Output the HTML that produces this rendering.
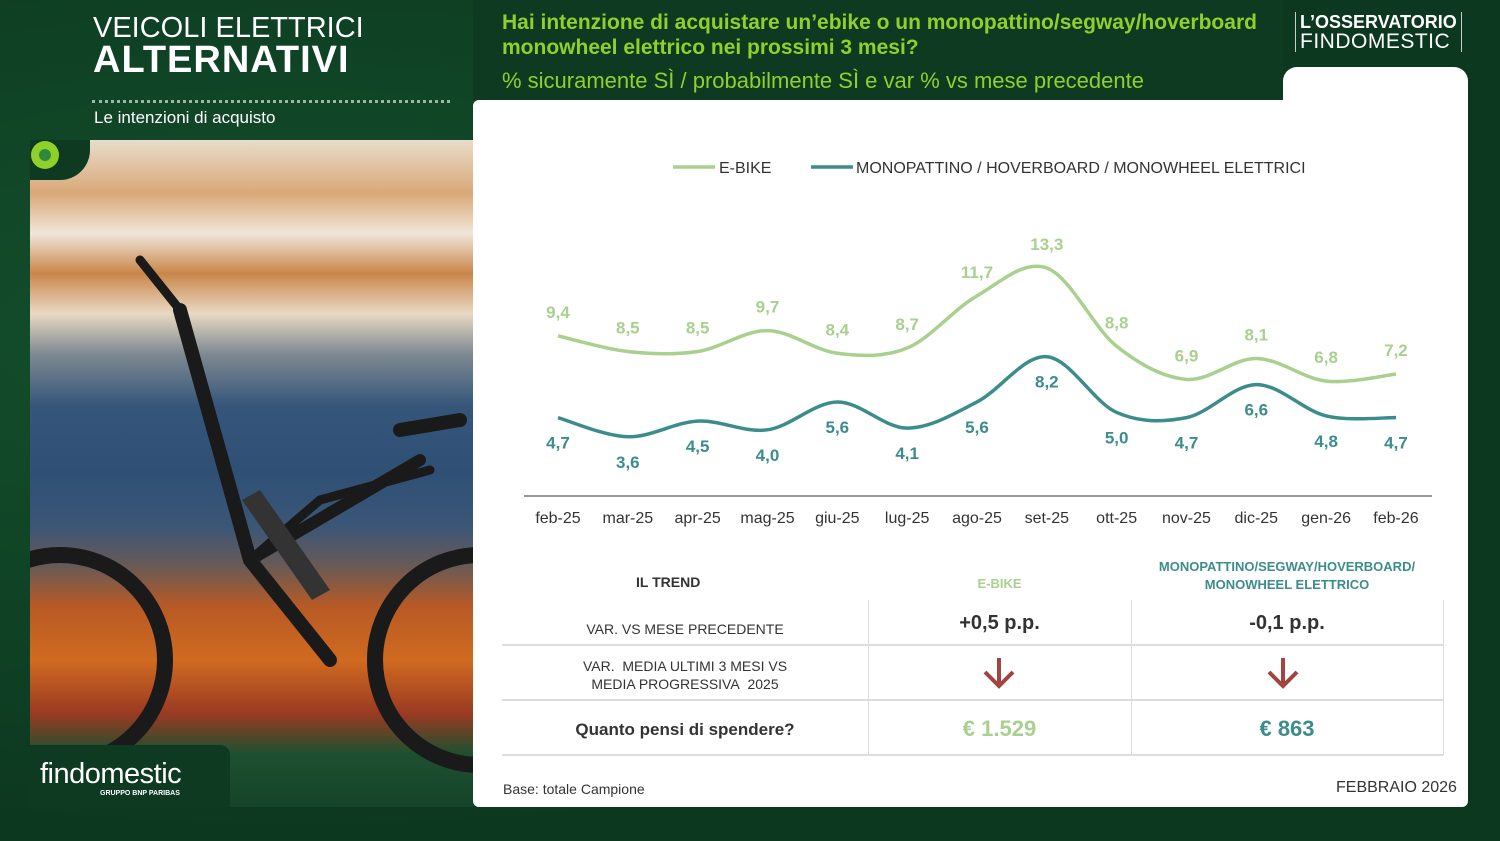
<!DOCTYPE html>
<html><head><meta charset="utf-8"><style>
body{margin:0;width:1500px;height:841px;overflow:hidden;background:#0e3a22;font-family:"Liberation Sans",sans-serif;position:relative}
.abs{position:absolute}
</style></head><body>
<div class="abs" style="left:0;top:0;width:1500px;height:841px;background:radial-gradient(ellipse at 20% 40%,#14512c,#0c3820 70%)"></div>
<!-- photo -->
<div class="abs" style="left:30px;top:140px;width:443px;height:667px;border-top-left-radius:40px;overflow:hidden;background:linear-gradient(180deg,#e8dccb 0%,#d9a877 8%,#f0e6d8 14%,#c9864a 20%,#e9d9c3 26%,#7f8a92 32%,#35557a 40%,#2f5075 50%,#3b5677 58%,#6a5a55 64%,#b85a25 70%,#d06a20 78%,#9a3a22 86%,#1d5030 92%,#16442a 100%)">
 <svg width="443" height="667" style="position:absolute;left:0;top:0">
  <g fill="none" stroke="#1a1a1a" stroke-linecap="round">
   <circle cx="30" cy="520" r="105" stroke-width="16"/>
   <circle cx="450" cy="520" r="105" stroke-width="16"/>
   <path d="M150 170 L220 420 L300 520" stroke-width="14"/>
   <path d="M220 420 L390 320" stroke-width="12"/>
   <path d="M220 420 L290 360 L400 330" stroke-width="9"/>
   <path d="M110 120 L150 170" stroke-width="9"/>
   <path d="M370 290 L430 280" stroke-width="14"/>
  </g>
  <path d="M230 350 L300 450 L282 460 L212 360Z" fill="#333"/>
 </svg>
</div>
<div class="abs" style="left:30px;top:140px;width:60px;height:40px;background:#0e3a22;border-bottom-right-radius:30px"></div>
<div class="abs" style="left:31px;top:141px;width:28px;height:28px;border-radius:50%;background:#8fd12a"></div>
<div class="abs" style="left:39px;top:149px;width:12px;height:12px;border-radius:50%;background:#2e8a3a"></div>
<div class="abs" style="left:30px;top:745px;width:200px;height:62px;background:#0e3a22;border-top-right-radius:10px"></div>
<div class="abs" style="left:40px;top:758px;color:#fff;font-size:29px;letter-spacing:-0.5px">findomestic</div>
<div class="abs" style="left:100px;top:790px;color:#fff;font-size:7px;font-weight:bold">GRUPPO BNP PARIBAS</div>
<!-- header left -->
<div class="abs" style="left:93px;top:12px;color:#fff;font-size:29px;line-height:32px">VEICOLI ELETTRICI<br><b style="font-size:38px;letter-spacing:1px">ALTERNATIVI</b></div>
<div class="abs" style="left:92px;top:100px;width:358px;border-top:3px dotted #9ab8a8"></div>
<div class="abs" style="left:94px;top:108px;color:#fff;font-size:17px">Le intenzioni di acquisto</div>
<!-- white panel -->
<div class="abs" style="left:473px;top:100px;width:995px;height:707px;background:#fff;border-radius:6px"></div>
<div class="abs" style="left:1283px;top:67px;width:185px;height:60px;background:#fff;border-radius:14px"></div>
<div class="abs" style="left:473px;top:0;width:810px;height:100px;background:#0e3a22;border-bottom-right-radius:12px"></div>
<div class="abs" style="left:502px;top:10px;color:#8fd12a;font-size:21px;font-weight:bold;line-height:25px">Hai intenzione di acquistare un’ebike o un monopattino/segway/hoverboard<br>monowheel elettrico nei prossimi 3 mesi?</div>
<div class="abs" style="left:502px;top:68px;color:#8fd12a;font-size:22px">% sicuramente SÌ / probabilmente SÌ e var % vs mese precedente</div>
<div class="abs" style="left:1295px;top:12px;border-left:1px solid #ccc;border-right:1px solid #ccc;padding:0 4px;color:#fff;font-size:18px;line-height:20px"><b>L’OSSERVATORIO</b><br><span style="font-size:21px;letter-spacing:0.5px">FINDOMESTIC</span></div>
<!-- chart -->
<svg id="ch" class="abs" style="left:0;top:0" width="1500" height="841" font-family="Liberation Sans, sans-serif"></svg>
<!-- table -->
<div class="abs" style="left:636px;top:574px;font-size:14px;font-weight:bold;color:#333">IL TREND</div>
<div class="abs" style="left:868px;top:576px;width:263px;text-align:center;font-size:13px;font-weight:bold;color:#a9d08e">E-BIKE</div>
<div class="abs" style="left:1131px;top:558px;width:312px;text-align:center;font-size:13px;font-weight:bold;color:#3d8c8c;line-height:18px">MONOPATTINO/SEGWAY/HOVERBOARD/<br>MONOWHEEL ELETTRICO</div>
<div class="abs" style="left:502px;top:644px;width:941px;border-top:2px solid #ddd"></div>
<div class="abs" style="left:502px;top:699px;width:941px;border-top:2px solid #ddd"></div>
<div class="abs" style="left:502px;top:754px;width:941px;border-top:2px solid #ddd"></div>
<div class="abs" style="left:868px;top:600px;height:155px;border-left:1px solid #ddd"></div>
<div class="abs" style="left:1131px;top:600px;height:155px;border-left:1px solid #ddd"></div>
<div class="abs" style="left:1443px;top:600px;height:155px;border-left:1px solid #ddd"></div>
<div class="abs" style="left:502px;top:621px;width:366px;text-align:center;font-size:14px;color:#333">VAR. VS MESE PRECEDENTE</div>
<div class="abs" style="left:502px;top:657px;width:366px;text-align:center;font-size:14px;color:#333;line-height:18px">VAR.&nbsp; MEDIA ULTIMI 3 MESI VS<br>MEDIA PROGRESSIVA&nbsp; 2025</div>
<div class="abs" style="left:502px;top:720px;width:366px;text-align:center;font-size:17px;font-weight:bold;color:#333">Quanto pensi di spendere?</div>
<div class="abs" style="left:868px;top:612px;width:263px;text-align:center;font-size:20px;font-weight:bold;color:#333">+0,5 p.p.</div>
<div class="abs" style="left:1131px;top:612px;width:312px;text-align:center;font-size:20px;font-weight:bold;color:#333">-0,1 p.p.</div>
<div class="abs" style="left:868px;top:716px;width:263px;text-align:center;font-size:22px;font-weight:bold;color:#a9d08e">€ 1.529</div>
<div class="abs" style="left:1131px;top:716px;width:312px;text-align:center;font-size:22px;font-weight:bold;color:#3d8c8c">€ 863</div>
<svg class="abs" style="left:0;top:0" width="1500" height="841"><g fill="none" stroke="#a0453f" stroke-width="4"><path d="M999 658V686M985 672L999 686L1013 672"/><path d="M1283 658V686M1269 672L1283 686L1297 672"/></g></svg>
<div class="abs" style="left:503px;top:781px;font-size:14px;color:#333">Base: totale Campione</div>
<div class="abs" style="left:1336px;top:779px;font-size:16px;color:#333">FEBBRAIO 2026</div>
<script>
var eb=[9.4,8.5,8.5,9.7,8.4,8.7,11.7,13.3,8.8,6.9,8.1,6.8,7.2],mo=[4.7,3.6,4.5,4.0,5.6,4.1,5.6,8.2,5.0,4.7,6.6,4.8,4.7];
var lab=["feb-25","mar-25","apr-25","mag-25","giu-25","lug-25","ago-25","set-25","ott-25","nov-25","dic-25","gen-26","feb-26"];
function X(i){return 558+i*69.83}function Y(v){return 268+(13.3-v)*17.4}
function path(a){var p=a.map(function(v,i){return[X(i),Y(v)]});var d="M"+p[0];for(var i=0;i<p.length-1;i++){var p0=p[i-1]||p[i],p1=p[i],p2=p[i+1],p3=p[i+2]||p2;var t=1/6;d+="C"+(p1[0]+(p2[0]-p0[0])*t)+","+(p1[1]+(p2[1]-p0[1])*t)+" "+(p2[0]-(p3[0]-p1[0])*t)+","+(p2[1]-(p3[1]-p1[1])*t)+" "+p2[0]+","+p2[1];}return d}
var s='<path d="'+path(eb)+'" fill="none" stroke="#a9d08e" stroke-width="3.5"/><path d="'+path(mo)+'" fill="none" stroke="#3d8c8c" stroke-width="3.5"/>';
function f(v){return v.toFixed(1).replace(".",",")}
for(var i=0;i<13;i++){s+='<text x="'+X(i)+'" y="'+(Y(eb[i])-18)+'" text-anchor="middle" font-size="17" font-weight="bold" fill="#a9d08e">'+f(eb[i])+'</text>';
s+='<text x="'+X(i)+'" y="'+(Y(mo[i])+31)+'" text-anchor="middle" font-size="17" font-weight="bold" fill="#3d8c8c">'+f(mo[i])+'</text>';
s+='<text x="'+X(i)+'" y="523" text-anchor="middle" font-size="16" fill="#333">'+lab[i]+'</text>';}
s+='<line x1="524" y1="496" x2="1432" y2="496" stroke="#777" stroke-width="1.5"/>';
s+='<line x1="673" y1="167" x2="715" y2="167" stroke="#a9d08e" stroke-width="3.5"/><text x="719" y="173" font-size="16" fill="#333">E-BIKE</text>';
s+='<line x1="811" y1="167" x2="853" y2="167" stroke="#3d8c8c" stroke-width="3.5"/><text x="856" y="173" font-size="16" fill="#333">MONOPATTINO / HOVERBOARD / MONOWHEEL ELETTRICI</text>';
document.getElementById("ch").innerHTML=s;
</script>
</body></html>
